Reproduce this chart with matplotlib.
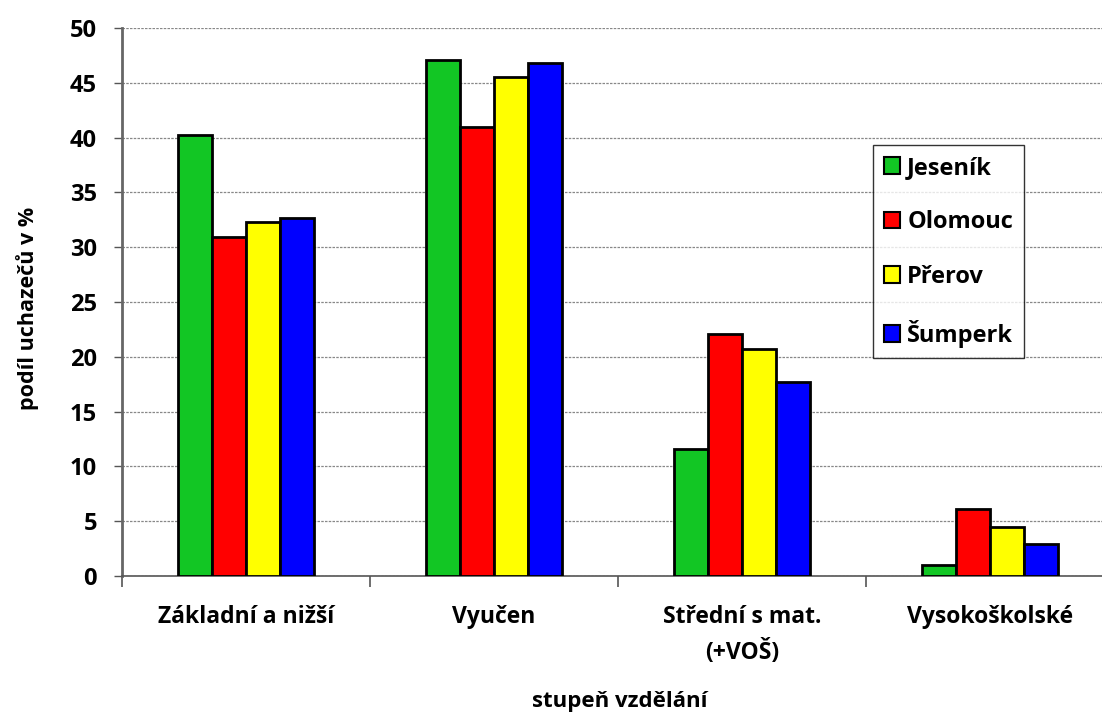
import matplotlib.pyplot as plt
import numpy as np

categories = ['Základní a nižší', 'Vyučen', 'Střední s mat.\n(+VOŠ)', 'Vysokoškolské']
regions = ['Jeseník', 'Olomouc', 'Přerov', 'Šumperk']
jesenik = [40.2, 47.1, 11.6, 1.0]
olomouc = [30.9, 41.0, 22.1, 6.1]
prerov = [32.3, 45.5, 20.7, 4.5]
sumperk = [32.7, 46.8, 17.7, 2.9]
colors = ['#12C624', '#FF0000', '#FFFF00', '#0000FF']

plt.rcParams['font.family'] = ['Open Sans', 'DejaVu Sans']
plt.rcParams['font.weight'] = 'bold'

fig = plt.figure(figsize=(11.02, 7.18), dpi=100)
# plot area runs a little past the right edge of the image, as in the original
ax = fig.add_axes([122/1102, 1-576/718, 992/1102, 548/718])

x = np.arange(len(categories))
w = 0.1375
series = [jesenik, olomouc, prerov, sumperk]
for i, (vals, name) in enumerate(zip(series, regions)):
    ax.bar(x + (i - 1.5)*w, vals, w, color=colors[i], edgecolor='black',
           linewidth=2, label=name, zorder=3)

ax.set_xlim(-0.5, 3.5)
ax.set_ylim(0, 50)
ax.set_yticks(range(0, 51, 5))
ax.yaxis.grid(True, linestyle=(0, (2, 1)), color='#888888', linewidth=0.9, zorder=0)

ax.set_xticks(x)
ax.set_xticklabels(categories, fontsize=16.5, fontweight='bold', linespacing=1.55)
ax.set_xticks(np.arange(-0.5, 4, 1), minor=True)
ax.tick_params(axis='x', which='major', length=0, pad=21)
ax.tick_params(axis='x', which='minor', length=8, width=1.2, color='#555555')
ax.tick_params(axis='y', length=6, width=1, color='#555555', labelsize=17, pad=12)
for lab in ax.get_yticklabels():
    lab.set_fontweight('bold')

ax.spines['top'].set_visible(False)
ax.spines['right'].set_visible(False)
ax.spines['left'].set_color('#666666')
ax.spines['left'].set_linewidth(2)
ax.spines['bottom'].set_color('#555555')
ax.spines['bottom'].set_linewidth(1.2)

fig.text(28/1102, 1-308/718, 'podíl uchazečů v %', fontsize=15.5, fontweight='bold',
         ha='center', va='center', rotation=90)
fig.text(620/1102, 1-702/718, 'stupeň vzdělání', fontsize=16, fontweight='bold',
         ha='center', va='center')

leg = ax.legend(loc='upper left', frameon=True,
                fancybox=False, edgecolor='black', handlelength=0.7,
                handleheight=0.7, handletextpad=0.3, labelspacing=1.3,
                borderpad=0.45, borderaxespad=0,
                prop={'weight': 'bold', 'size': 17})
leg.set_bbox_to_anchor((873/1102, 1-145/718), transform=fig.transFigure)
leg.get_frame().set_linewidth(1.0)
for h in leg.legend_handles:
    h.set_linewidth(1.5)

fig.savefig('out.png', dpi=100)
